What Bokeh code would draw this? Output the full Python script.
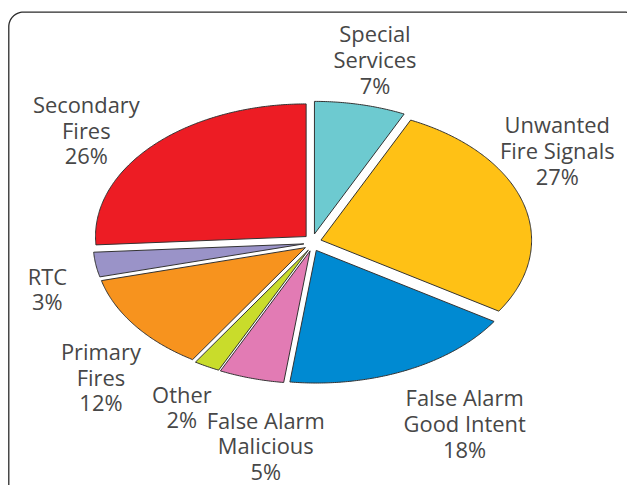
import numpy as np
from bokeh.plotting import figure
from bokeh.models import Range1d, ColumnDataSource
from bokeh.core.properties import value
from bokeh.embed import file_html
from bokeh.resources import INLINE

# ---- data ----
categories = ["Special\nServices", "Unwanted\nFire Signals", "False Alarm\nGood Intent",
              "False Alarm\nMalicious", "Other", "Primary\nFires", "RTC", "Secondary\nFires"]
percents = [7, 27, 18, 5, 2, 12, 3, 26]
colors = ["#6DCAD0", "#FFC115", "#008AD2", "#E27BB4", "#C9DC2B", "#F7931E", "#9A93C8", "#ED1C24"]

# ---- layout (reference-image coordinates) ----
W, H = 627, 485
REF_W, REF_H = 643, 501
SCALE = W / REF_W
CX, CY, RX, RY = 320.0, 250.0, 216.0, 137.0
EXPLODE = 9.0
label_pos = [(384, 61), (571, 155), (476, 437), (272, 460), (186, 420),
             (103, 389), (48, 298), (88, 134)]
LINE_H = 26.5
FONT = "Open Sans"
FONT_PX = 22.5 * SCALE

p = figure(width=W, height=H, output_backend="svg", toolbar_location=None,
           x_range=Range1d(0, REF_W), y_range=Range1d(REF_H, 0), min_border=0)
p.axis.visible = False
p.grid.visible = False
p.outline_line_color = None
p.background_fill_color = "white"

# rounded frame (extends beyond the right and bottom edges, as in the reference)
def rounded_rect(x0, y0, x1, y1, r, n=16):
    xs, ys = [], []
    corners = [(x1 - r, y0 + r, -90, 0), (x1 - r, y1 - r, 0, 90),
               (x0 + r, y1 - r, 90, 180), (x0 + r, y0 + r, 180, 270)]
    for cx, cy, a0, a1 in corners:
        t = np.radians(np.linspace(a0, a1, n))
        xs.extend(cx + r * np.cos(t))
        ys.extend(cy + r * np.sin(t))
    return xs, ys

fx, fy = rounded_rect(8.5, 12, 655, 515, 15)
p.patch(fx, fy, fill_color=None, line_color="#2b2b2b", line_width=1.3)

# pie slices (elliptical, exploded)
total = float(sum(percents))
xs_all, ys_all = [], []
start = 90.0
for pct in percents:
    sweep = pct / total * 360.0
    end = start - sweep
    mid = np.radians((start + end) / 2)
    ox, oy = EXPLODE * np.cos(mid), -EXPLODE * np.sin(mid)
    t = np.radians(np.linspace(start, end, max(8, int(sweep * 2))))
    x = [CX + ox] + list(CX + ox + RX * np.cos(t))
    y = [CY + oy] + list(CY + oy - RY * np.sin(t))
    xs_all.append(x)
    ys_all.append(y)
    start = end

p.patches(xs_all, ys_all, fill_color=colors, line_color="#333333", line_width=1)

# labels
lx, ly, lt = [], [], []
for name, pct, (px, py) in zip(categories, percents, label_pos):
    lines = name.split("\n") + [f"{pct}%"]
    n = len(lines)
    for i, ln in enumerate(lines):
        lx.append(px)
        ly.append(py + (i - (n - 1) / 2) * LINE_H)
        lt.append(ln)
src = ColumnDataSource(dict(x=lx, y=ly, text=lt))
p.text(x="x", y="y", text="text", source=src, text_align="center", text_baseline="middle",
       text_font=value(FONT), text_font_size=f"{FONT_PX:.1f}px", text_color="#474747")

open("out.html", "w").write(file_html(p, INLINE))
